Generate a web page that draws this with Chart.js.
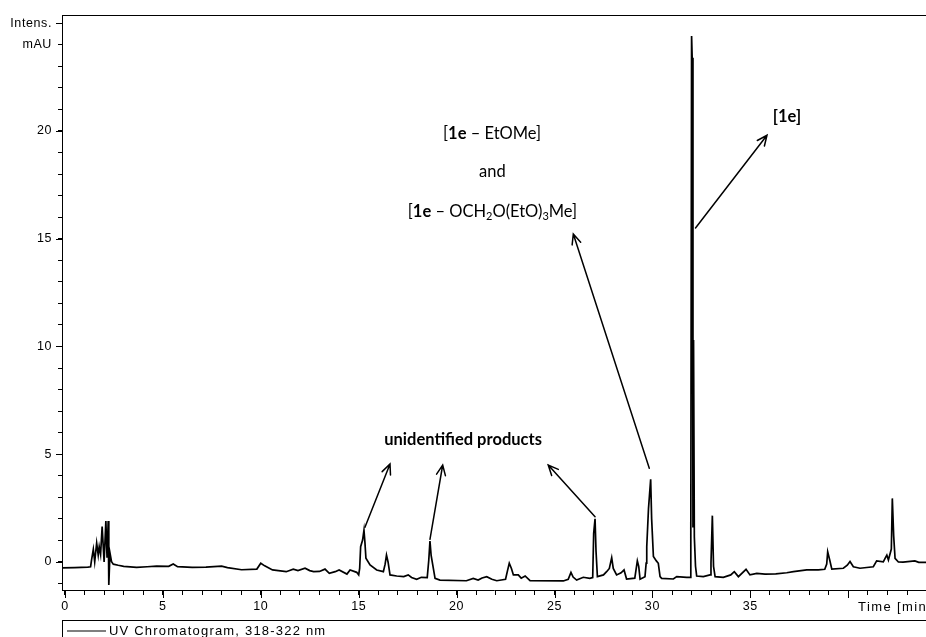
<!DOCTYPE html>
<html>
<head>
<meta charset="utf-8">
<script src="https://cdn.jsdelivr.net/npm/chart.js@4.4.1/dist/chart.umd.min.js"></script>
<style>
  html, body { margin: 0; padding: 0; background: #fff; }
  #wrap { width: 926px; height: 637px; }
</style>
</head>
<body>
<div id="wrap"><canvas id="chrom" width="926" height="637"></canvas></div>
<script>
// UV trace (318-322 nm): retention time in min, intensity in mAU
const retentionTime = [
  -0.15, 0.5, 1.17, 1.31, 1.36, 1.45, 1.52, 1.62, 1.70, 1.75, 1.82, 1.90, 2.00, 2.09, 2.15, 2.21, 2.24, 2.30, 2.38, 2.47,
  2.72, 3.0, 3.66, 4.2, 4.68, 5.3, 5.53, 5.75, 6.5, 7.2, 8.0, 8.3, 9.02, 9.8, 10.0, 10.2, 10.6, 11.3, 11.66, 11.9,
  12.26, 12.5, 12.7, 13.0, 13.28, 13.5, 13.8, 14.0, 14.4, 14.56, 14.9, 15.0, 15.05, 15.1, 15.2, 15.27, 15.32, 15.37, 15.58, 15.92,
  16.26, 16.35, 16.42, 16.5, 16.6, 16.94, 17.3, 17.53, 17.7, 17.96, 18.2, 18.5, 18.58, 18.64, 18.7, 18.9, 19.15, 20.5, 20.85, 21.1,
  21.3, 21.54, 21.8, 22.05, 22.5, 22.6, 22.69, 22.8, 22.9, 23.15, 23.3, 23.5, 23.75, 25.45, 25.7, 25.84, 25.95, 26.13, 26.47, 26.8,
  26.95, 27.0, 27.07, 27.12, 27.19, 27.5, 27.66, 27.8, 27.92, 28.0, 28.17, 28.4, 28.55, 28.68, 29.1, 29.23, 29.3, 29.37, 29.62, 29.68,
  29.71, 29.8, 29.91, 29.96, 30.05, 30.2, 30.3, 30.39, 30.47, 31.07, 31.24, 31.75, 31.92, 31.96, 32.0, 32.03, 32.07, 32.1, 32.14, 32.2,
  32.26, 32.6, 32.94, 32.99, 33.06, 33.12, 33.2, 33.62, 34.0, 34.18, 34.39, 34.78, 34.98, 35.33, 35.75, 36.3, 36.86, 37.2, 37.88, 38.47,
  38.8, 38.9, 38.95, 39.05, 39.16, 39.75, 39.95, 40.09, 40.26, 40.6, 41.28, 41.45, 41.79, 41.88, 41.97, 42.05, 42.2, 42.25, 42.32, 42.39,
  42.56, 42.8, 43.4, 43.6, 43.97
];
const intensity = [
  -0.27, -0.26, -0.24, -0.22, 0.10, 0.59, 0.01, 0.88, 0.32, 0.71, 0.35, 1.64, 0.00, 1.90, 0.20, 1.90, -1.07, 0.42, 0.01, -0.10,
  -0.15, -0.20, -0.25, -0.22, -0.19, -0.20, -0.09, -0.22, -0.25, -0.24, -0.19, -0.26, -0.36, -0.33, -0.06, -0.18, -0.37, -0.45, -0.33, -0.40,
  -0.29, -0.40, -0.45, -0.44, -0.33, -0.53, -0.45, -0.37, -0.56, -0.37, -0.48, -0.60, -0.30, 0.71, 1.02, 1.48, 0.90, 0.17, -0.14, -0.37,
  -0.45, -0.10, 0.32, 0.00, -0.60, -0.65, -0.68, -0.60, -0.72, -0.80, -0.71, -0.72, 0.09, 0.97, 0.30, -0.76, -0.84, -0.87, -0.76, -0.84,
  -0.74, -0.68, -0.80, -0.87, -0.80, -0.40, -0.06, -0.30, -0.60, -0.60, -0.75, -0.65, -0.87, -0.88, -0.80, -0.48, -0.70, -0.84, -0.71, -0.76,
  -0.72, 1.33, 2.00, 0.50, -0.68, -0.60, -0.45, -0.30, 0.20, -0.30, -0.60, -0.50, -0.37, -0.79, -0.75, 0.05, -0.20, -0.80, -0.68, -0.05,
  0.71, 2.49, 3.84, 2.00, 0.25, 0.05, -0.06, -0.68, -0.76, -0.79, -0.68, -0.71, -0.71, 1.64, 24.4, 23.4, 1.60, 10.3, 1.17, -0.20,
  -0.65, -0.68, -0.60, -0.06, 2.15, -0.20, -0.68, -0.71, -0.60, -0.45, -0.68, -0.34, -0.60, -0.53, -0.56, -0.55, -0.50, -0.45, -0.37, -0.37,
  -0.34, -0.10, 0.47, 0.10, -0.33, -0.29, -0.15, 0.02, -0.22, -0.29, -0.22, 0.05, 0.01, 0.17, 0.32, 0.09, 0.60, 2.95, 1.20, 0.17,
  0.00, -0.01, 0.05, -0.02, -0.02
];
const timeTickLabels = [0, 5, 10, 15, 20, 25, 30, 35];
const timeMajorTicks = [0, 5, 10, 15, 20, 25, 30, 35, 40];
const intensityTickLabels = [0, 5, 10, 15, 20];
const intensityMajorTicks = [0, 5, 10, 15, 20, 25];
const intensityUnitLabels = ['Intens.', 'mAU'];   // shown at the 25 and 24 ticks
const timeAxisTitle = 'Time [min]';
const traceLabel = 'UV Chromatogram, 318-322 nm';

// peak annotations (text runs; b = bold, sub = subscript), placed in data units
const notes = [
  { t: 21.81, v: 19.86, runs: [{ s: '[' }, { s: '1e', b: 1 }, { s: ' – EtOMe]' }] },
  { t: 21.83, v: 18.11, runs: [{ s: 'and' }] },
  { t: 21.83, v: 16.26, runs: [{ s: '[' }, { s: '1e', b: 1 }, { s: ' – OCH' }, { s: '2', sub: 1 }, { s: 'O(EtO)' }, { s: '3', sub: 1 }, { s: 'Me]' }] },
  { t: 36.87, v: 20.65, runs: [{ s: '[1e]', b: 1 }] },
  { t: 20.33, v: 5.69, runs: [{ s: 'unidentified products', b: 1 }] }
];
const pointers = [
  { from: [15.32, 1.61], to: [16.60, 4.55] },
  { from: [18.64, 1.05], to: [19.29, 4.50] },
  { from: [27.07, 2.10], to: [24.68, 4.50] },
  { from: [29.84, 4.35], to: [25.96, 15.22] },
  { from: [32.20, 15.50], to: [35.85, 19.80] }
];

const AXIS_FONT = 'Liberation Sans, Arial, sans-serif';
const NOTE_FONT = 'Lato, "Open Sans", sans-serif';

const extras = {
  id: 'chromExtras',
  beforeDraw(chart) {
    // the axis lettering is drawn slightly spaced out
    chart.ctx.letterSpacing = '0.6px';
  },
  afterDraw(chart) {
    const ctx = chart.ctx, xs = chart.scales.x, ys = chart.scales.y, area = chart.chartArea;
    ctx.save();
    ctx.strokeStyle = '#000';
    ctx.fillStyle = '#000';
    ctx.lineWidth = 1;

    // frame top edge
    ctx.beginPath();
    ctx.moveTo(area.left, area.top + 0.5);
    ctx.lineTo(area.right, area.top + 0.5);
    ctx.stroke();

    // longer marks on the major ticks
    ctx.beginPath();
    timeMajorTicks.forEach(v => {
      const px = Math.round(xs.getPixelForValue(v)) + 0.5;
      ctx.moveTo(px, area.bottom);
      ctx.lineTo(px, area.bottom + 8);
    });
    intensityMajorTicks.forEach(v => {
      const py = Math.round(ys.getPixelForValue(v)) + 0.5;
      ctx.moveTo(area.left - 6, py);
      ctx.lineTo(area.left, py);
    });
    ctx.stroke();

    // axis title at the right end of the time axis
    ctx.font = '13px ' + AXIS_FONT;
    ctx.letterSpacing = '1.4px';
    ctx.textAlign = 'left';
    ctx.textBaseline = 'middle';
    ctx.fillText(timeAxisTitle, xs.getPixelForValue(40.5), area.bottom + 17);

    // trace legend box
    const ly = area.bottom + 41;
    ctx.strokeRect(area.left + 0.5, area.bottom + 30.5, chart.width, 40);
    ctx.lineWidth = 1.2;
    ctx.beginPath();
    ctx.moveTo(area.left + 5, ly);
    ctx.lineTo(area.left + 44, ly);
    ctx.stroke();
    ctx.letterSpacing = '1.2px';
    ctx.fillText(chart.data.datasets[0].label, area.left + 47, ly);
    ctx.letterSpacing = '0px';

    // annotation texts
    const size = 16.5;
    notes.forEach(n => {
      const cx = xs.getPixelForValue(n.t), cy = ys.getPixelForValue(n.v);
      const fontOf = r => (r.b ? 'bold ' : '') + (r.sub ? 11 : size) + 'px ' + NOTE_FONT;
      let total = 0;
      n.runs.forEach(r => { ctx.font = fontOf(r); r.w = ctx.measureText(r.s).width; total += r.w; });
      let x = cx - total / 2;
      ctx.textAlign = 'left';
      ctx.textBaseline = 'middle';
      n.runs.forEach(r => {
        ctx.font = fontOf(r);
        ctx.fillText(r.s, x, cy + (r.sub ? 4.5 : 0));
        x += r.w;
      });
    });

    // arrows
    ctx.lineWidth = 1.5;
    ctx.lineCap = 'round';
    pointers.forEach(p => {
      const x1 = xs.getPixelForValue(p.from[0]), y1 = ys.getPixelForValue(p.from[1]);
      const x2 = xs.getPixelForValue(p.to[0]), y2 = ys.getPixelForValue(p.to[1]);
      ctx.beginPath();
      ctx.moveTo(x1, y1);
      ctx.lineTo(x2, y2);
      const a = Math.atan2(y2 - y1, x2 - x1), L = 11, s = 0.42;
      ctx.moveTo(x2 - L * Math.cos(a - s), y2 - L * Math.sin(a - s));
      ctx.lineTo(x2, y2);
      ctx.lineTo(x2 - L * Math.cos(a + s), y2 - L * Math.sin(a + s));
      ctx.stroke();
    });
    ctx.restore();
  }
};

const points = retentionTime.map((t, i) => ({ x: t, y: intensity[i] }));

new Chart(document.getElementById('chrom'), {
  type: 'line',
  data: {
    datasets: [{
      label: traceLabel,
      data: points,
      borderColor: '#000',
      borderWidth: 1.7,
      pointRadius: 0,
      tension: 0,
      fill: false
    }]
  },
  options: {
    responsive: false,
    animation: false,
    devicePixelRatio: 1,
    layout: { padding: { top: 15, right: 0, left: 0, bottom: 0 } },
    plugins: { legend: { display: false }, tooltip: { enabled: false } },
    scales: {
      x: {
        type: 'linear',
        min: -0.15,
        max: 43.97,
        afterFit(scale) { scale.height = 47; },
        border: { display: true, color: '#000', width: 1 },
        grid: { drawOnChartArea: false, drawTicks: true, tickLength: 5, tickColor: '#000' },
        ticks: {
          stepSize: 1,
          includeBounds: false,
          autoSkip: false,
          maxRotation: 0,
          padding: 4,
          color: '#000',
          font: { family: AXIS_FONT, size: 12.5 },
          callback: v => timeTickLabels.includes(v) ? String(v) : ''
        }
      },
      y: {
        type: 'linear',
        min: -1.30,
        max: 25.38,
        afterFit(scale) { scale.width = 62; },
        border: { display: true, color: '#000', width: 1 },
        grid: { drawOnChartArea: false, drawTicks: true, tickLength: 4, tickColor: '#000' },
        ticks: {
          stepSize: 1,
          includeBounds: false,
          autoSkip: false,
          padding: 6,
          color: '#000',
          font: { family: AXIS_FONT, size: 12.5 },
          callback: v => {
            if (v === 25) return intensityUnitLabels[0];
            if (v === 24) return intensityUnitLabels[1];
            return intensityTickLabels.includes(v) ? String(v) : '';
          }
        }
      }
    }
  },
  plugins: [extras]
});
</script>
</body>
</html>
